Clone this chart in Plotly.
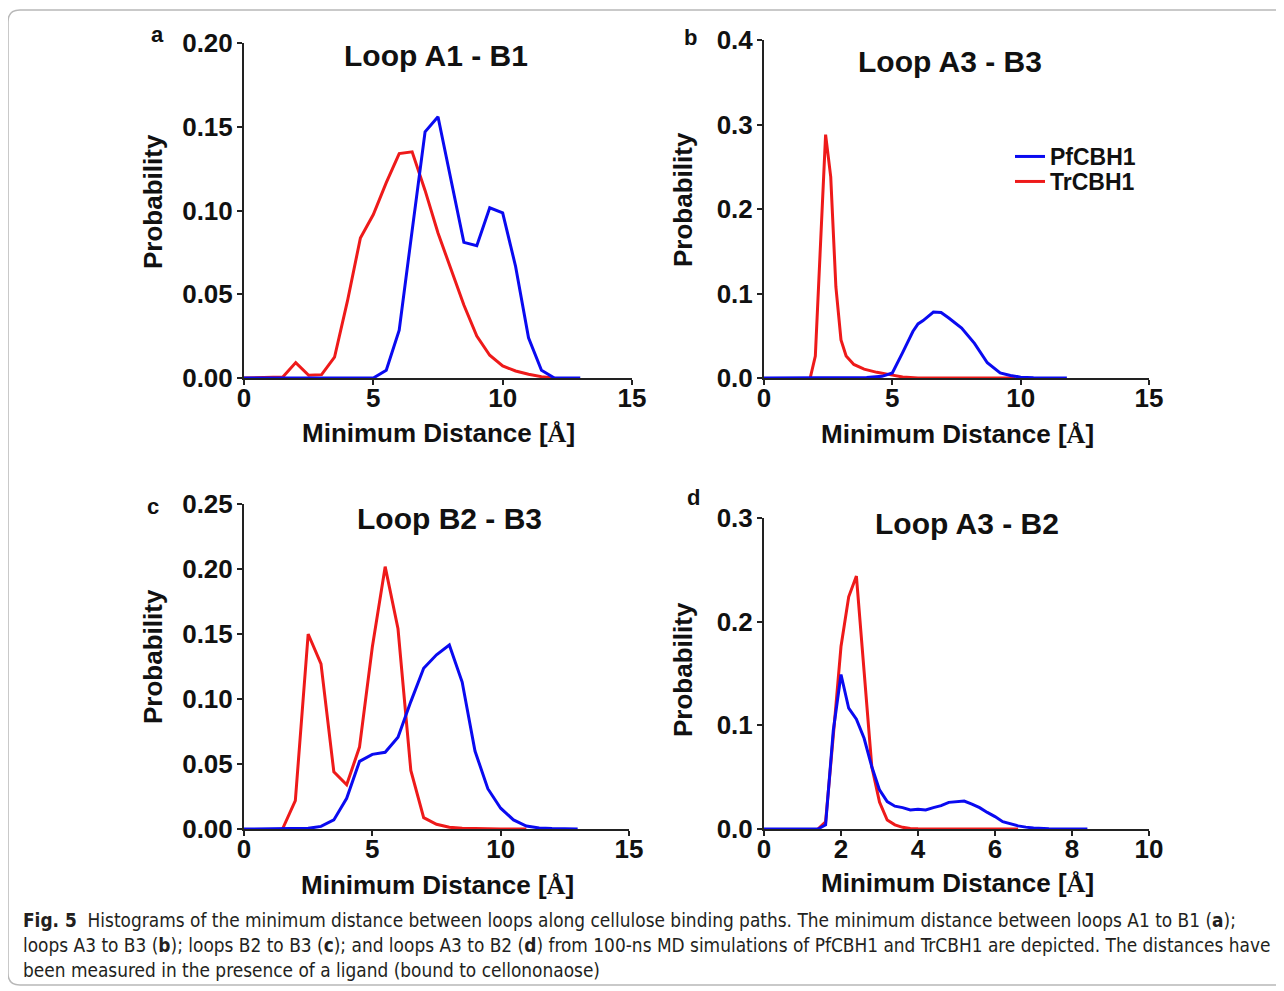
import plotly.graph_objects as go

W, H = 1284, 991

# ---------------- data ----------------
# Panel a: Loop A1 - B1
a_pf_x = [0, 0.5, 1, 1.5, 2, 2.5, 3, 3.5, 4, 4.5, 5, 5.5, 6, 6.5, 7, 7.5, 8, 8.5, 9, 9.5, 10, 10.5, 11, 11.5, 12, 12.5, 13]
a_pf_y = [0, 0, 0, 0, 0, 0, 0, 0, 0, 0, 0, 0.0046, 0.0286, 0.088, 0.147, 0.156, 0.118, 0.081, 0.079, 0.1016, 0.0986, 0.0666, 0.024, 0.0046, 0, 0, 0]
a_tr_x = [0, 0.5, 1, 1.5, 2, 2.5, 3, 3.5, 4, 4.5, 5, 5.5, 6, 6.5, 7, 7.5, 8, 8.5, 9, 9.5, 10, 10.5, 11, 11.5, 12]
a_tr_y = [0, 0.0002, 0.0004, 0.0006, 0.0092, 0.0016, 0.002, 0.0124, 0.046, 0.0836, 0.0976, 0.1166, 0.134, 0.135, 0.112, 0.0866, 0.065, 0.0436, 0.025, 0.0136, 0.0072, 0.0042, 0.0022, 0.0008, 0]

# Panel b: Loop A3 - B3
b_pf_x = [0, 4.0, 4.6, 5.0, 5.4, 5.8, 6.0, 6.2, 6.6, 6.9, 7.2, 7.7, 8.2, 8.7, 9.2, 9.6, 10.0, 10.5, 11.8]
b_pf_y = [0, 0.0005, 0.002, 0.006, 0.03, 0.055, 0.064, 0.068, 0.078, 0.0775, 0.071, 0.059, 0.041, 0.018, 0.006, 0.003, 0.001, 0.0003, 0]
b_tr_x = [1.8, 2.0, 2.4, 2.6, 2.8, 3.0, 3.2, 3.5, 3.9, 4.4, 4.9, 5.4, 6.0, 9.8]
b_tr_y = [0, 0.026, 0.288, 0.238, 0.108, 0.045, 0.026, 0.016, 0.0105, 0.0067, 0.004, 0.0012, 0, 0]

# Panel c: Loop B2 - B3
c_pf_x = [0, 0.5, 1, 1.5, 2, 2.5, 3, 3.5, 4, 4.5, 5, 5.5, 6, 6.5, 7, 7.5, 8, 8.5, 9, 9.5, 10, 10.5, 11, 11.5, 12, 12.5, 13]
c_pf_y = [0, 0, 0, 0, 0, 0.0005, 0.002, 0.007, 0.0236, 0.052, 0.0574, 0.059, 0.0705, 0.098, 0.1236, 0.134, 0.1415, 0.113, 0.06, 0.031, 0.016, 0.007, 0.0023, 0.0008, 0.0003, 0.0001, 0]
c_tr_x = [1.5, 2, 2.5, 3, 3.5, 4, 4.5, 5, 5.5, 6, 6.5, 7, 7.5, 8, 8.5, 9, 9.5, 10, 10.5, 11]
c_tr_y = [0, 0.0218, 0.15, 0.127, 0.044, 0.034, 0.063, 0.14, 0.2018, 0.154, 0.045, 0.0087, 0.0036, 0.0013, 0.0005, 0.0002, 0.0001, 0, 0, 0]

# Panel d: Loop A3 - B2
d_pf_x = [0, 1.4, 1.6, 1.8, 2.0, 2.2, 2.4, 2.6, 2.8, 3.0, 3.2, 3.4, 3.6, 3.8, 4.0, 4.2, 4.4, 4.6, 4.8, 5.0, 5.2, 5.4, 5.6, 5.8, 6.0, 6.2, 6.4, 6.6, 6.8, 7.0, 7.4, 7.8, 8.4]
d_pf_y = [0, 0, 0.004, 0.095, 0.149, 0.1165, 0.106, 0.0875, 0.06, 0.0377, 0.0264, 0.022, 0.0206, 0.0183, 0.019, 0.0183, 0.0206, 0.0225, 0.0257, 0.0267, 0.027, 0.024, 0.0206, 0.016, 0.012, 0.007, 0.0048, 0.003, 0.0018, 0.001, 0.0003, 0.0001, 0]
d_tr_x = [1.4, 1.6, 1.8, 2.0, 2.2, 2.4, 2.6, 2.8, 3.0, 3.2, 3.4, 3.6, 3.8, 4.0, 6.6]
d_tr_y = [0, 0.007, 0.09, 0.176, 0.224, 0.244, 0.152, 0.06, 0.026, 0.0087, 0.004, 0.0016, 0.0006, 0.0002, 0]

panel_titles = ["Loop A1 - B1", "Loop A3 - B3", "Loop B2 - B3", "Loop A3 - B2"]
panel_letters = ["a", "b", "c", "d"]
series_names = ["PfCBH1", "TrCBH1"]
x_label = "Minimum Distance [<span style='font-family:Liberation Serif'>Å</span>]"
y_label = "Probability"

caption_lines = [
    "<b>Fig. 5</b>  Histograms of the minimum distance between loops along cellulose binding paths. The minimum distance between loops A1 to B1 (<b>a</b>);",
    "loops A3 to B3 (<b>b</b>); loops B2 to B3 (<b>c</b>); and loops A3 to B2 (<b>d</b>) from 100-ns MD simulations of PfCBH1 and TrCBH1 are depicted. The distances have",
    "been measured in the presence of a ligand (bound to cellononaose)",
]

# ---------------- layout geometry (pixels, in screen coordinates) ----------------
BLUE = "#0a0af0"
RED = "#ee1a1a"
FONT = "Liberation Sans, Arial, sans-serif"
OFF = 8  # page body margin offset of the figure div

# plot areas: (left, right, top, bottom) in px
areas = [(244, 632, 43, 378), (764, 1149, 40, 378), (244, 629, 504, 829), (764, 1149, 518, 829)]
xranges = [[0, 15], [0, 15], [0, 15], [0, 10]]
yranges = [[0, 0.2], [0, 0.4], [0, 0.25], [0, 0.3]]
xdticks = [5, 5, 5, 2]
ydticks = [0.05, 0.1, 0.05, 0.1]
yformats = [".2f", ".1f", ".2f", ".1f"]
title_pos = [(436, 55), (950, 62), (449, 519), (967, 523)]
letter_pos = [(157, 35), (690, 38), (153, 506), (693, 498)]
xtitle_pos = [(438, 433), (957, 434), (437, 885), (957, 883)]
ytitle_pos = [(153, 202), (683, 200), (153, 657), (683, 670)]

def px(x):
    return (x - OFF) / W

def py(y):
    return 1 - (y - OFF) / H

data = [
    (a_pf_x, a_pf_y, a_tr_x, a_tr_y),
    (b_pf_x, b_pf_y, b_tr_x, b_tr_y),
    (c_pf_x, c_pf_y, c_tr_x, c_tr_y),
    (d_pf_x, d_pf_y, d_tr_x, d_tr_y),
]

legend_font = dict(family=FONT, size=23, color="#111", weight="bold")
fig = go.Figure()
layout = dict(
    width=W, height=H,
    margin=dict(l=0, r=0, t=0, b=0, pad=0, autoexpand=False),
    paper_bgcolor="white", plot_bgcolor="white",
    showlegend=True,
    legend=dict(x=px(1010), y=py(135), xanchor="left", yanchor="top",
                font=legend_font, bgcolor="rgba(0,0,0,0)", itemwidth=30),
    legend2=dict(x=px(1010), y=py(160), xanchor="left", yanchor="top",
                 font=legend_font, bgcolor="rgba(0,0,0,0)", itemwidth=30),
)

annotations = []
for i in range(4):
    sfx = "" if i == 0 else str(i + 1)
    l, r, t, b = areas[i]
    pfx, pfy, trx, try_ = data[i]
    fig.add_trace(go.Scatter(
        x=trx, y=try_, mode="lines", name=series_names[1],
        line=dict(color=RED, width=3), xaxis="x" + sfx, yaxis="y" + sfx,
        showlegend=(i == 1), legend="legend2",
    ))
    fig.add_trace(go.Scatter(
        x=pfx, y=pfy, mode="lines", name=series_names[0],
        line=dict(color=BLUE, width=3), xaxis="x" + sfx, yaxis="y" + sfx,
        showlegend=(i == 1), legend="legend",
    ))
    axcommon = dict(
        showline=True, linecolor="#222", linewidth=2, ticks="outside", ticklen=5,
        tickwidth=2, tickcolor="#222", showgrid=False, zeroline=False, automargin=False,
        tickfont=dict(family=FONT, size=26, color="#111", weight="bold"),
    )
    layout["xaxis" + sfx] = dict(
        domain=[px(l), px(r)], range=xranges[i], dtick=xdticks[i], tick0=0,
        anchor="y" + sfx, ticklabelstandoff=-9, **axcommon,
    )
    layout["yaxis" + sfx] = dict(
        domain=[py(b), py(t)], range=yranges[i], dtick=ydticks[i], tick0=0,
        tickformat=yformats[i], anchor="x" + sfx, ticklabelstandoff=-1, **axcommon,
    )
    tx, ty = title_pos[i]
    annotations.append(dict(
        x=px(tx), y=py(ty), xref="paper", yref="paper", text=panel_titles[i],
        showarrow=False, xanchor="center", yanchor="middle",
        font=dict(family=FONT, size=30, color="#111", weight="bold"),
    ))
    lx, ly = letter_pos[i]
    annotations.append(dict(
        x=px(lx), y=py(ly), xref="paper", yref="paper", text=panel_letters[i],
        showarrow=False, xanchor="center", yanchor="middle",
        font=dict(family=FONT, size=22, color="#111", weight="bold"),
    ))
    xx, xy = xtitle_pos[i]
    annotations.append(dict(
        x=px(xx), y=py(xy), xref="paper", yref="paper", text=x_label,
        showarrow=False, xanchor="center", yanchor="middle",
        font=dict(family=FONT, size=26, color="#111", weight="bold"),
    ))
    yx, yy = ytitle_pos[i]
    annotations.append(dict(
        x=px(yx), y=py(yy), xref="paper", yref="paper", text=y_label,
        showarrow=False, xanchor="center", yanchor="middle", textangle=-90,
        font=dict(family=FONT, size=26, color="#111", weight="bold"),
    ))

cap_y = [920, 945, 970]
for line, yy in zip(caption_lines, cap_y):
    annotations.append(dict(
        x=px(21), y=py(yy), xref="paper", yref="paper", text=line,
        showarrow=False, xanchor="left", yanchor="middle",
        font=dict(family="Liberation Sans Narrow, DejaVu Sans Condensed, sans-serif", size=18.9, color="#231f20"),
    ))

layout["annotations"] = annotations

# rounded frame (open on the right, as in the reference crop)
x0, x1 = px(8), px(1310)
yt, yb = py(10), py(985)
rx, ry = 12 / W, 12 / H
frame_path = (f"M {x1},{yt} L {x0 + rx},{yt} Q {x0},{yt} {x0},{yt - ry} "
              f"L {x0},{yb + ry} Q {x0},{yb} {x0 + rx},{yb} L {x1},{yb}")
layout["shapes"] = [dict(type="path", xref="paper", yref="paper", path=frame_path,
                         line=dict(color="#b8b8b8", width=1.5))]

fig.update_layout(**layout)
fig.write_html("out.html")
